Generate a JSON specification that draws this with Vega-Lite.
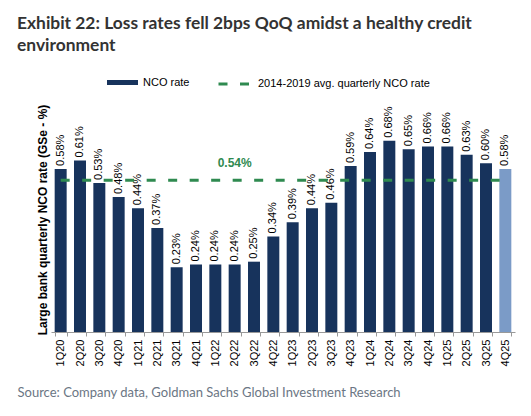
{
  "$schema": "https://vega.github.io/schema/vega-lite/v6.json",
  "width": 464,
  "height": 225,
  "autosize": {"type": "none"},
  "padding": {"left": 51, "top": 107, "right": 16, "bottom": 84},
  "background": "white",
  "title": {
    "text": ["Exhibit 22: Loss rates fell 2bps QoQ amidst a healthy credit", "environment"],
    "anchor": "start",
    "frame": "group",
    "dx": -34,
    "font": "Lato",
    "fontSize": 17.4,
    "fontWeight": "bold",
    "color": "#333333",
    "lineHeight": 22,
    "offset": 13
  },
  "datasets": {
    "nco": [
      {"quarter": "1Q20", "rate": 0.58, "series": "NCO rate"},
      {"quarter": "2Q20", "rate": 0.61, "series": "NCO rate"},
      {"quarter": "3Q20", "rate": 0.53, "series": "NCO rate"},
      {"quarter": "4Q20", "rate": 0.48, "series": "NCO rate"},
      {"quarter": "1Q21", "rate": 0.44, "series": "NCO rate"},
      {"quarter": "2Q21", "rate": 0.37, "series": "NCO rate"},
      {"quarter": "3Q21", "rate": 0.23, "series": "NCO rate"},
      {"quarter": "4Q21", "rate": 0.24, "series": "NCO rate"},
      {"quarter": "1Q22", "rate": 0.24, "series": "NCO rate"},
      {"quarter": "2Q22", "rate": 0.24, "series": "NCO rate"},
      {"quarter": "3Q22", "rate": 0.25, "series": "NCO rate"},
      {"quarter": "4Q22", "rate": 0.34, "series": "NCO rate"},
      {"quarter": "1Q23", "rate": 0.39, "series": "NCO rate"},
      {"quarter": "2Q23", "rate": 0.44, "series": "NCO rate"},
      {"quarter": "3Q23", "rate": 0.46, "series": "NCO rate"},
      {"quarter": "4Q23", "rate": 0.59, "series": "NCO rate"},
      {"quarter": "1Q24", "rate": 0.64, "series": "NCO rate"},
      {"quarter": "2Q24", "rate": 0.68, "series": "NCO rate"},
      {"quarter": "3Q24", "rate": 0.65, "series": "NCO rate"},
      {"quarter": "4Q24", "rate": 0.66, "series": "NCO rate"},
      {"quarter": "1Q25", "rate": 0.66, "series": "NCO rate"},
      {"quarter": "2Q25", "rate": 0.63, "series": "NCO rate"},
      {"quarter": "3Q25", "rate": 0.60, "series": "NCO rate"},
      {"quarter": "4Q25", "rate": 0.58, "series": "NCO rate", "estimate": true}
    ],
    "avg": [
      {"start": "1Q20", "end": "4Q25", "label_at": "2Q22", "avg": 0.54, "series": "2014-2019 avg. quarterly NCO rate"}
    ]
  },
  "encoding": {
    "x": {
      "field": "quarter",
      "type": "ordinal",
      "sort": null,
      "scale": {"paddingInner": 0.38, "paddingOuter": 0.19},
      "axis": {
        "title": "Source: Company data, Goldman Sachs Global Investment Research",
        "titleFont": "Lato",
        "titleFontSize": 13,
        "titleFontWeight": "normal",
        "titleColor": "#6b7684",
        "titleAnchor": "start",
        "titleAlign": "left",
        "titleBaseline": "alphabetic",
        "titleX": -34,
        "titleY": 64,
        "labelAngle": -90,
        "labelAlign": "right",
        "labelBaseline": "middle",
        "labelFont": "Liberation Sans",
        "labelFontSize": 11,
        "labelColor": "#000000",
        "labelPadding": 3,
        "domainColor": "#999999",
        "tickColor": "#999999",
        "tickBand": "extent",
        "tickSize": 4
      }
    },
    "y": {
      "type": "quantitative",
      "scale": {"domain": [0, 0.8]},
      "axis": {
        "title": "Large bank quarterly NCO rate (GSe - %)",
        "titleFont": "Liberation Sans",
        "titleFontSize": 12,
        "titleFontWeight": "bold",
        "titleColor": "#000000",
        "titlePadding": 2,
        "labels": false,
        "ticks": false,
        "domain": false,
        "grid": false
      }
    }
  },
  "layer": [
    {
      "data": {"name": "nco"},
      "mark": {"type": "bar"},
      "encoding": {
        "y": {"field": "rate"},
        "color": {
          "condition": {"test": "datum.estimate === true", "value": "#7b9bc7"},
          "field": "series",
          "type": "nominal",
          "scale": {"domain": ["NCO rate"], "range": ["#17335c"]},
          "legend": {
            "title": null,
            "orient": "none",
            "legendX": 56,
            "legendY": -40,
            "padding": 0,
            "symbolType": "M-1,-0.16H1V0.16H-1Z",
            "symbolSize": 961,
            "symbolStrokeWidth": 0,
            "labelFont": "Liberation Sans",
            "labelFontSize": 11,
            "labelColor": "#000000",
            "labelOffset": 5,
            "labelLimit": 300
          }
        }
      }
    },
    {
      "data": {"name": "nco"},
      "transform": [{"calculate": "format(datum.rate, '.2f') + '%'", "as": "label"}],
      "mark": {
        "type": "text",
        "angle": 270,
        "align": "left",
        "baseline": "middle",
        "dx": 3,
        "font": "Liberation Sans",
        "fontSize": 11,
        "color": "#000000"
      },
      "encoding": {
        "y": {"field": "rate"},
        "text": {"field": "label", "type": "nominal"}
      }
    },
    {
      "data": {"name": "avg"},
      "mark": {"type": "rule", "strokeWidth": 3, "color": "#2f8a50", "strokeCap": "butt"},
      "encoding": {
        "x": {"field": "start"},
        "x2": {"field": "end"},
        "y": {"field": "avg"},
        "strokeDash": {
          "field": "series",
          "type": "nominal",
          "scale": {"domain": ["2014-2019 avg. quarterly NCO rate"], "range": [[9, 12.5]]},
          "legend": {
            "title": null,
            "orient": "none",
            "legendX": 166,
            "legendY": -40,
            "padding": 0,
            "symbolType": "stroke",
            "symbolSize": 961,
            "symbolStrokeWidth": 3,
            "symbolStrokeColor": "#2f8a50",
            "symbolDash": [11, 9],
            "labelFont": "Liberation Sans",
            "labelFontSize": 11,
            "labelColor": "#000000",
            "labelOffset": 7,
            "labelLimit": 300
          }
        }
      }
    },
    {
      "data": {"name": "avg"},
      "transform": [{"calculate": "format(datum.avg, '.2f') + '%'", "as": "label"}],
      "mark": {
        "type": "text",
        "dy": -17,
        "font": "Liberation Sans",
        "fontSize": 12,
        "fontWeight": "bold",
        "color": "#2f8a50"
      },
      "encoding": {
        "x": {"field": "label_at"},
        "y": {"field": "avg"},
        "text": {"field": "label", "type": "nominal"}
      }
    }
  ],
  "config": {
    "view": {"stroke": null}
  }
}
